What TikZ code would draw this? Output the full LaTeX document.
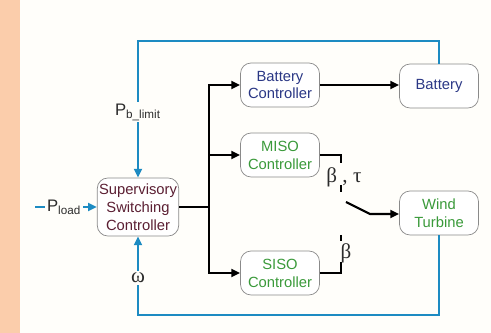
\documentclass[tikz,border=0pt]{standalone}
\usepackage{fontspec}
\setmainfont{Liberation Sans}
\newfontfamily\greekfont{Liberation Serif}
\usetikzlibrary{arrows.meta,positioning}
\definecolor{peach}{HTML}{FBCDAB}
\definecolor{paper}{HTML}{FFFEFA}
\definecolor{wireblue}{HTML}{1D8BC2}
\definecolor{navy}{HTML}{2A3785}
\definecolor{leafgreen}{HTML}{3A9A3A}
\definecolor{maroon}{HTML}{5B1F33}
\definecolor{boxgray}{HTML}{8A8A8A}
\definecolor{darktext}{HTML}{2C2C2C}

\tikzset{
  ctrlbox/.style={draw=boxgray, fill=white, rounded corners=6pt, minimum width=1.58cm, minimum height=0.88cm, align=center, inner sep=1pt, font=\fontsize{8.4}{10.2}\selectfont},
  blackline/.style={line width=1.2pt, black},
  blueline/.style={line width=1.2pt, wireblue},
  tip/.style={-{Triangle[length=5pt,width=4.5pt]}},
  sigtag/.style={fill=paper, inner sep=1pt, text=darktext}
}

\begin{document}
\begin{tikzpicture}[x=0.02cm, y=-0.02cm]
\useasboundingbox (0,0) rectangle (491,333);
\fill[paper] (0,0) rectangle (491,333);
\fill[peach] (0,0) rectangle (20,333);

% blocks
\node[ctrlbox, minimum height=1.16cm, text=maroon] (ssc) at (138,207) {Supervisory\\Switching\\Controller};
\node[ctrlbox, text=navy] (bc) at (280,85) {Battery\\Controller};
\node[ctrlbox, text=leafgreen] (miso) at (280,155) {MISO\\Controller};
\node[ctrlbox, text=leafgreen] (siso) at (280,273) {SISO\\Controller};
\node[ctrlbox, text=navy] (bat) at (439,86) {Battery};
\node[ctrlbox, text=leafgreen] (wt) at (439,213) {Wind\\Turbine};

% black signal bus
\coordinate (bus) at (209,207);
\draw[blackline] (ssc.east) -- (bus);
\draw[blackline, tip] (bus) |- (bc);
\draw[blackline, tip] (bus) |- (miso);
\draw[blackline, tip] (bus) |- (siso);
\draw[blackline, tip] (bc.east) -- (bc.east -| bat.west);

% switch
\coordinate (mt) at (341,163);
\coordinate (st) at (341,262);
\coordinate (blade) at (346,202);
\coordinate (pivot) at (370,214);
\draw[blackline] (miso.east) -| (mt);
\draw[blackline] (siso.east) -| (st);
\draw[blackline] (341,185) -- (341,192);
\draw[blackline] (341,235) -- (341,241);
\draw[blackline, tip] (blade) -- (pivot) -- (pivot -| wt.west);
\node[font=\greekfont\fontsize{12}{12}\selectfont, text=darktext] (bt) at (344,177) {β , τ};
\node[font=\greekfont\fontsize{12}{12}\selectfont, text=darktext] (b2) at (346,253) {β};

% blue feedback loops
\coordinate (topleft) at (138,41);
\coordinate (botleft) at (138,315);
\coordinate (pin) at (35,207);
\draw[blueline, tip] (bat.north) |- (topleft) -- node[sigtag, pos=0.52, font=\fontsize{9.5}{9.5}\selectfont] (pb) {P\textsubscript{b\_limit}} (ssc.north);
\draw[blueline, tip] (wt.south) |- (botleft) -- node[sigtag, pos=0.47, font=\greekfont\fontsize{12}{12}\selectfont] (om) {ω} (ssc.south);
\draw[blueline, tip] (pin) -- node[sigtag, pos=0.47, font=\fontsize{9.5}{9.5}\selectfont] (pl) {P\textsubscript{load}} (ssc.west);
\end{tikzpicture}
\end{document}
